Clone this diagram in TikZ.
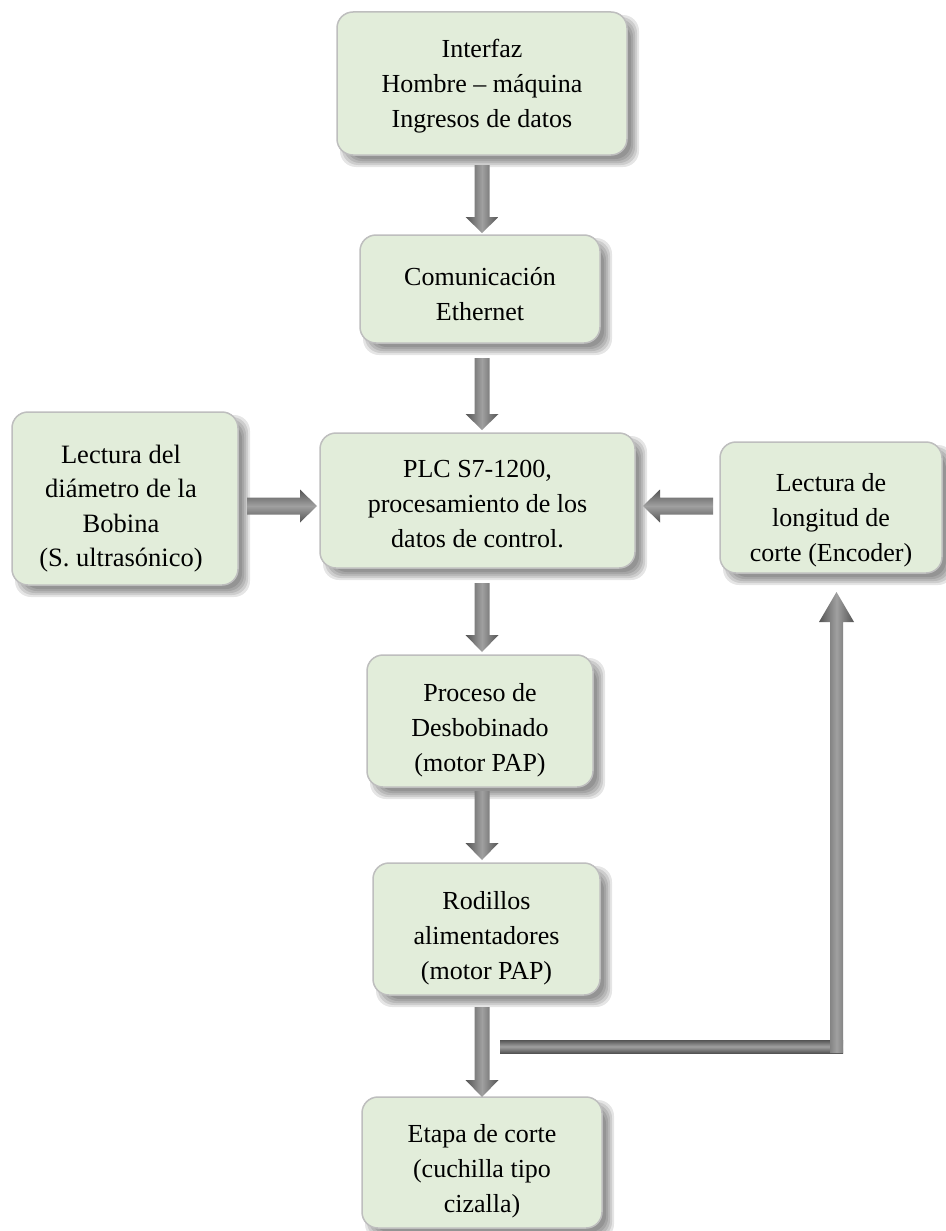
\documentclass[tikz,border=0pt]{standalone}
\usepackage{fontspec}
\setmainfont{Liberation Serif}
\usetikzlibrary{calc}

\pgfdeclarelayer{bg}
\pgfdeclarelayer{shadow}
\pgfsetlayers{bg,shadow,main}

\definecolor{boxfill}{RGB}{226,237,218}
\definecolor{boxline}{RGB}{190,190,190}
\definecolor{arrowdark}{RGB}{84,84,84}
\definecolor{arrowlight}{RGB}{160,160,160}

\tikzset{
  box/.style={draw=boxline, line width=1.5pt, fill=boxfill, rounded corners=16pt,
    align=center, inner sep=0pt, outer sep=0pt, font=\fontsize{26}{35}\selectfont},
  boxtext/.style={align=center, inner sep=0pt, font=\fontsize{26.5}{34.5}\selectfont},
  vshade/.style={left color=arrowdark, right color=arrowdark, middle color=arrowlight},
  hshade/.style={top color=arrowdark, bottom color=arrowdark, middle color=arrowlight},
}

% centred lines of a box, lowered by #1 inside the box
\newcommand\boxlines[2]{%
  \raisebox{-#1}[\height][\depth]{\begin{tabular}{@{}c@{}}#2\end{tabular}}}

% soft drop shadow behind a box node
\newcommand\dropshadow[1]{%
  \begin{pgfonlayer}{shadow}
    \foreach \a/\b in {3/12,5/10,7/8,9/6,11/4}{
      \fill[black, opacity=0.1, rounded corners=16pt]
        ($(#1.north west)+(\a,\a)$) rectangle ($(#1.south east)+(\b,\b)$);
    }
  \end{pgfonlayer}}

% block arrow: #1 start, #2 tip, #3 half shaft width, #4 half head width,
% #5 head length, #6 shading style
\newcommand\blockarrow[6]{%
  \coordinate (ba-s) at #1;
  \coordinate (ba-t) at #2;
  \coordinate (ba-b) at ($(ba-t)!#5!(ba-s)$);
  \shade[#6] ($(ba-s)!#3!90:(ba-t)$) -- ($(ba-b)!#3!-90:(ba-s)$)
    -- ($(ba-b)!#4!-90:(ba-s)$) -- (ba-t) -- ($(ba-b)!#4!90:(ba-s)$)
    -- ($(ba-b)!#3!90:(ba-s)$) -- ($(ba-s)!#3!-90:(ba-t)$) -- cycle;
}

\begin{document}
\begin{tikzpicture}[x=1pt, y=-1pt]
  \useasboundingbox (0,0) rectangle (945,1231);
  \begin{pgfonlayer}{bg}
    \fill[white] (0,0) rectangle (945,1231);
  \end{pgfonlayer}

  % boxes
  \node[box, minimum width=290pt, minimum height=143pt] (b1) at (482,83.5)
    {\boxlines{2pt}{Interfaz\\Hombre – máquina\\Ingresos de datos}};
  \node[box, minimum width=240pt, minimum height=108pt] (b2) at (480,289)
    {\boxlines{7pt}{Comunicación\\Ethernet}};
  \node[box, minimum width=315pt, minimum height=135pt] (plc) at (477.5,500.5)
    {\boxlines{5pt}{PLC S7-1200,\\procesamiento de los\\datos de control.}};
  \node[box, minimum width=226pt, minimum height=173pt] (bob) at (125,498.5) {};
  \node[box, minimum width=222pt, minimum height=131pt] (enc) at (831,507.5)
    {\boxlines{12pt}{Lectura de\\longitud de\\corte (Encoder)}};
  \node[box, minimum width=226pt, minimum height=132pt] (b4) at (480,721)
    {\boxlines{8pt}{Proceso de\\Desbobinado\\(motor PAP)}};
  \node[box, minimum width=227pt, minimum height=132pt] (b5) at (486.5,929)
    {\boxlines{8pt}{Rodillos\\alimentadores\\(motor PAP)}};
  \node[box, minimum width=240pt, minimum height=131pt] (b6) at (482,1162.5)
    {\boxlines{8pt}{Etapa de corte\\(cuchilla tipo\\cizalla)}};

  % the coil-diameter text fills its box and is cut at the bottom
  \begin{scope}
    \clip (bob.north west) rectangle ($(bob.south east)+(0,-14)$);
    \node[boxtext] (bobtext) at ($(bob.center)+(-4,10)$)
      {Lectura del\\diámetro de la\\Bobina\\(S. ultrasónico)};
  \end{scope}

  \foreach \n in {b1,b2,plc,bob,enc,b4,b5,b6}{\dropshadow{\n}}

  % guide lines for the arrows
  \coordinate (axis) at (482,0);
  \coordinate (row) at (0,506);
  \coordinate (fbx) at (836.5,0);

  % main flow
  \blockarrow{($(b1.south -| axis)+(0,10)$)}{($(b2.north -| axis)+(0,-2)$)}{7.5pt}{16.5pt}{16pt}{vshade}
  \blockarrow{($(b2.south -| axis)+(0,15)$)}{($(plc.north -| axis)+(0,-3)$)}{7.5pt}{16.5pt}{16pt}{vshade}
  \blockarrow{($(plc.south -| axis)+(0,15)$)}{($(b4.north -| axis)+(0,-3)$)}{7.5pt}{16.5pt}{17pt}{vshade}
  \blockarrow{($(b4.south -| axis)+(0,4)$)}{($(b5.north -| axis)+(0,-3)$)}{7.5pt}{16.5pt}{17pt}{vshade}
  \blockarrow{($(b5.south -| axis)+(0,12)$)}{(b6.north -| axis)}{7.5pt}{16.5pt}{17pt}{vshade}

  % side inputs into the PLC
  \blockarrow{($(bob.east |- row)+(9,0)$)}{($(plc.west |- row)+(-3,0)$)}{8.5pt}{16.5pt}{17pt}{hshade}
  \blockarrow{($(enc.west |- row)+(-7,0)$)}{($(plc.east |- row)+(8,0)$)}{8.5pt}{16.5pt}{17pt}{hshade}

  % feedback from the feed rollers to the encoder
  \coordinate (fb) at (500,1046.5);
  \shade[hshade] ($(fb)+(0,-6.5)$) rectangle ($(fb -| fbx)+(6.5,6.5)$);
  \blockarrow{($(fb -| fbx)+(0,6.5)$)}{($(enc.south -| fbx)+(0,19)$)}{6.5pt}{17.5pt}{30pt}{vshade}
\end{tikzpicture}
\end{document}
